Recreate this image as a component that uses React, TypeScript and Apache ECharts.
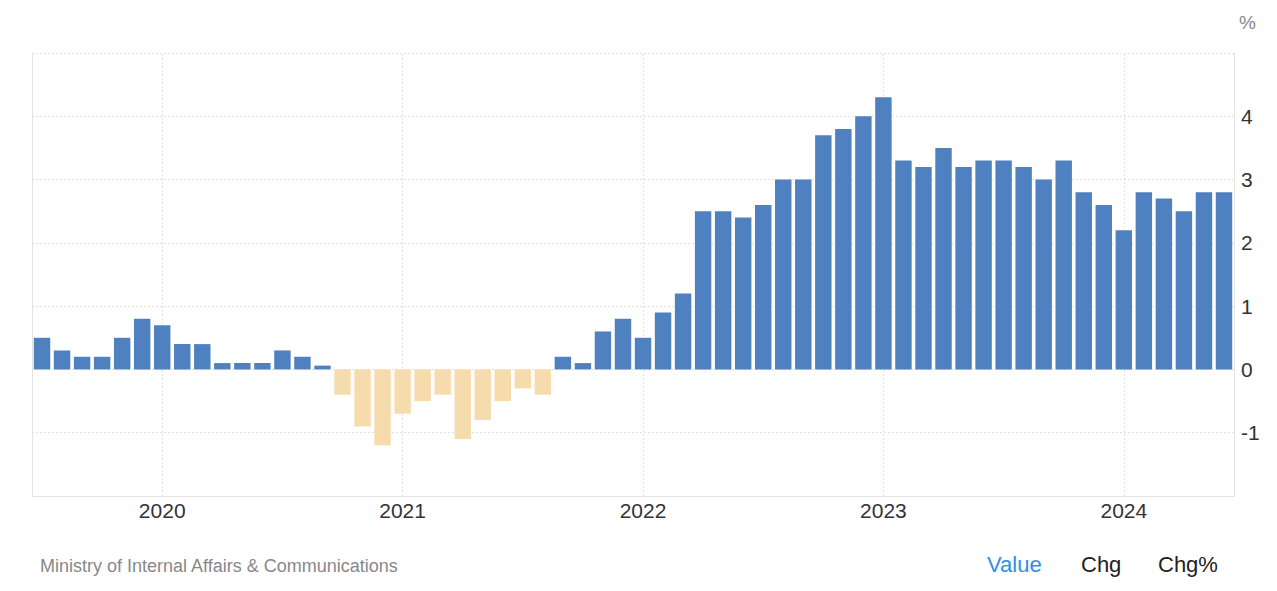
import React, { useEffect, useRef } from 'react';
import * as echarts from 'echarts';
import type { EChartsType } from 'echarts';

// monthly, Jul 2019 .. Jun 2024
const months: string[] = [];
for (let y = 2019; y <= 2024; y++) {
  for (let m = 1; m <= 12; m++) {
    if ((y === 2019 && m < 7) || (y === 2024 && m > 6)) continue;
    months.push(`${y}-${String(m).padStart(2, '0')}`);
  }
}

const values = [
  0.5, 0.3, 0.2, 0.2, 0.5, 0.8,
  0.7, 0.4, 0.4, 0.1, 0.1, 0.1, 0.3, 0.2, 0.06, -0.4, -0.9, -1.2,
  -0.7, -0.5, -0.4, -1.1, -0.8, -0.5, -0.3, -0.4, 0.2, 0.1, 0.6, 0.8,
  0.5, 0.9, 1.2, 2.5, 2.5, 2.4, 2.6, 3.0, 3.0, 3.7, 3.8, 4.0,
  4.3, 3.3, 3.2, 3.5, 3.2, 3.3, 3.3, 3.2, 3.0, 3.3, 2.8, 2.6,
  2.2, 2.8, 2.7, 2.5, 2.8, 2.8
];

const yearMarks = ['2020-01', '2021-01', '2022-01', '2023-01', '2024-01'];
const yTicks = [-1, 0, 1, 2, 3, 4];

const BLUE = '#4f80bf';
const BEIGE = '#f6dcad';
const FONT = 'Liberation Sans, Arial, sans-serif';

const CpiChart = () => {
  const chartRef = useRef<HTMLDivElement>(null);

  useEffect(() => {
    let chartInstance: EChartsType | null = null;

    if (chartRef.current) {
      chartInstance = echarts.init(chartRef.current, undefined, { renderer: 'svg' });

      const option = {
        animation: false,
        textStyle: { fontFamily: FONT },
        grid: { left: 32, right: 43, top: 53, bottom: 95 },
        xAxis: {
          type: 'category',
          data: months,
          boundaryGap: true,
          axisLine: { onZero: false, lineStyle: { color: '#e3e3e3' } },
          axisTick: { show: false },
          splitLine: { show: false },
          axisLabel: {
            interval: (i: number, v: string) => v.endsWith('-01'),
            formatter: (v: string) => v.slice(0, 4),
            color: '#333',
            fontSize: 21,
            margin: 4
          }
        },
        yAxis: [
          {
            type: 'value',
            position: 'right',
            min: -2,
            max: 5,
            interval: 1,
            axisLine: { show: true, lineStyle: { color: '#e3e3e3' } },
            axisTick: { show: false },
            axisLabel: {
              color: '#333',
              fontSize: 21,
              margin: 7,
              formatter: (v: number) => (yTicks.includes(v) ? String(v) : '')
            },
            splitLine: { lineStyle: { color: '#e2e2e2', type: [2, 2] } }
          },
          {
            type: 'value',
            position: 'left',
            min: -2,
            max: 5,
            axisLine: { show: true, lineStyle: { color: '#e3e3e3' } },
            axisTick: { show: false },
            axisLabel: { show: false },
            splitLine: { show: false }
          }
        ],
        series: [
          {
            // year gridlines, kept behind the bars
            type: 'line',
            z: 1,
            data: [],
            markLine: {
              z: 1,
              silent: true,
              symbol: 'none',
              label: { show: false },
              lineStyle: { color: '#e2e2e2', type: [2, 2], width: 1 },
              data: yearMarks.map((m) => ({ xAxis: m }))
            }
          },
          {
            type: 'bar',
            z: 10,
            barCategoryGap: '18%',
            data: values.map((v) => ({
              value: v,
              itemStyle: { color: v < 0 ? BEIGE : BLUE }
            }))
          }
        ],
        graphic: [
          {
            type: 'text',
            right: 21,
            top: 13,
            style: { text: '%', fill: '#888', fontSize: 19, fontFamily: FONT }
          },
          {
            type: 'text',
            left: 40,
            top: 557,
            style: {
              text: 'Ministry of Internal Affairs & Communications',
              fill: '#888',
              fontSize: 18,
              fontFamily: FONT
            }
          },
          {
            type: 'text',
            left: 987,
            top: 553,
            style: { text: 'Value', fill: '#2f8fe6', fontSize: 22, fontFamily: FONT }
          },
          {
            type: 'text',
            left: 1081,
            top: 553,
            style: { text: 'Chg', fill: '#222', fontSize: 22, fontFamily: FONT }
          },
          {
            type: 'text',
            left: 1158,
            top: 553,
            style: { text: 'Chg%', fill: '#222', fontSize: 22, fontFamily: FONT }
          }
        ]
      };

      chartInstance.setOption(option);
    }

    return () => {
      chartInstance?.dispose();
    };
  }, []);

  return (
    <div
      ref={chartRef}
      style={{ position: 'fixed', left: 0, top: 0, width: '1277px', height: '591px', background: '#fff' }}
    ></div>
  );
};

export default function App() {
  return <CpiChart />;
}
